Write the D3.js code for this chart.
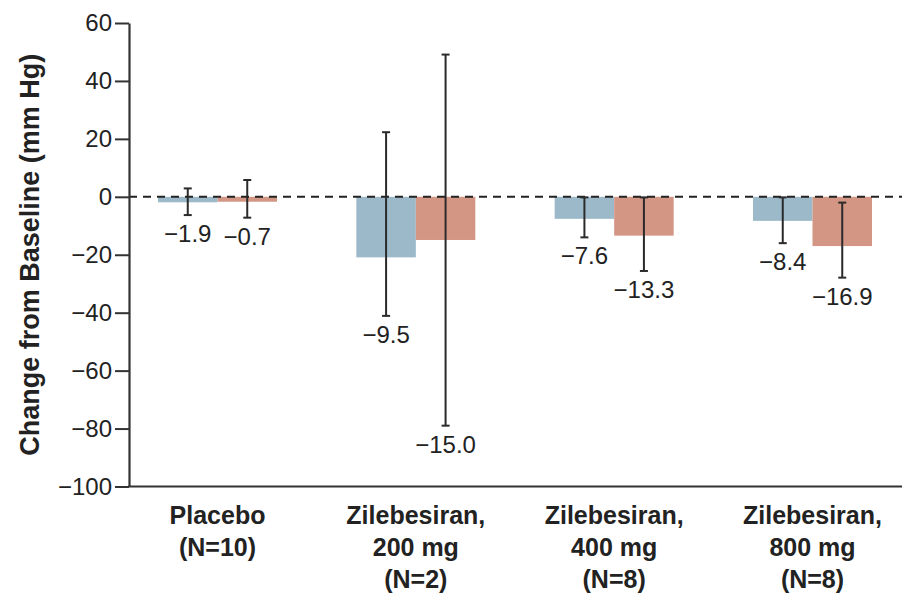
<!DOCTYPE html>
<html>
<head>
<meta charset="utf-8">
<script src="https://cdn.jsdelivr.net/npm/d3@7"></script>
<style>
    body { margin: 0; background: #fff; }
    svg { display: block; }
</style>
</head>
<body>
<div id="chart"></div>
<script>

const groups = ["Placebo", "Zilebesiran 200", "Zilebesiran 400", "Zilebesiran 800"];
const groupLabels = [
    ["Placebo", "(N=10)"],
    ["Zilebesiran,", "200 mg", "(N=2)"],
    ["Zilebesiran,", "400 mg", "(N=8)"],
    ["Zilebesiran,", "800 mg", "(N=8)"]
];
const series = ["first", "second"];

// bar heights, error bar ends and printed values
const firstMeans = [-1.9, -20.9, -7.6, -8.3];
const firstUpper = [2.9, 22.3, -0.2, -0.2];
const firstLower = [-6.3, -41.1, -14.0, -16.0];
const firstLabels = ["−1.9", "−9.5", "−7.6", "−8.4"];

const secondMeans = [-1.7, -14.9, -13.4, -17.0];
const secondUpper = [5.8, 49.1, -0.2, -2.0];
const secondLower = [-7.2, -79.0, -25.6, -27.9];
const secondLabels = ["−0.7", "−15.0", "−13.3", "−16.9"];

const yTicks = [60, 40, 20, 0, -20, -40, -60, -80, -100];

document.addEventListener("DOMContentLoaded", function () {
    drawChart();
});

function drawChart() {
    const width = 902, height = 601;
    const axisX = 129;

    const colors = { first: "#9bb9c9", second: "#d49684" };

    let rows = [];
    groups.forEach(function (g, i) {
        rows.push({ group: g, key: "first", mean: firstMeans[i], hi: firstUpper[i], lo: firstLower[i], label: firstLabels[i] });
        rows.push({ group: g, key: "second", mean: secondMeans[i], hi: secondUpper[i], lo: secondLower[i], label: secondLabels[i] });
    });

    let svg = d3.select("#chart")
        .append("svg")
        .attr("width", width)
        .attr("height", height);

    let xScale = d3.scaleBand()
        .domain(groups)
        .range([158, 872])
        .paddingInner(0.4)
        .paddingOuter(0);

    let xInner = d3.scaleBand()
        .domain(series)
        .range([0, xScale.bandwidth()]);

    let yScale = d3.scaleLinear()
        .domain([-100, 60])
        .range([486.5, 23]);

    // bars
    svg.append("g")
        .selectAll("rect")
        .data(rows)
        .enter()
        .append("rect")
        .attr("x", d => xScale(d.group) + xInner(d.key))
        .attr("width", xInner.bandwidth())
        .attr("y", d => yScale(Math.max(0, d.mean)))
        .attr("height", d => Math.abs(yScale(d.mean) - yScale(0)))
        .attr("fill", d => colors[d.key]);

    // zero reference line
    svg.append("line")
        .attr("x1", axisX)
        .attr("x2", width)
        .attr("y1", yScale(0))
        .attr("y2", yScale(0))
        .attr("stroke", "#222")
        .attr("stroke-width", 2)
        .attr("stroke-dasharray", "8,6");

    // error bars
    const cx = d => xScale(d.group) + xInner(d.key) + xInner.bandwidth() / 2;
    let err = svg.append("g")
        .attr("stroke", "#2a2a2a")
        .attr("stroke-width", 2);

    err.selectAll(".stem")
        .data(rows)
        .enter()
        .append("line")
        .attr("x1", cx).attr("x2", cx)
        .attr("y1", d => yScale(d.hi))
        .attr("y2", d => yScale(d.lo));

    err.selectAll(".capHi")
        .data(rows)
        .enter()
        .append("line")
        .attr("x1", d => cx(d) - 4).attr("x2", d => cx(d) + 4)
        .attr("y1", d => yScale(d.hi))
        .attr("y2", d => yScale(d.hi));

    err.selectAll(".capLo")
        .data(rows)
        .enter()
        .append("line")
        .attr("x1", d => cx(d) - 4).attr("x2", d => cx(d) + 4)
        .attr("y1", d => yScale(d.lo))
        .attr("y2", d => yScale(d.lo));

    // value labels under the error bars
    svg.append("g")
        .selectAll("text")
        .data(rows)
        .enter()
        .append("text")
        .attr("x", cx)
        .attr("y", d => yScale(d.lo) + 27)
        .attr("text-anchor", "middle")
        .style("font-family", "'Liberation Sans', Arial, sans-serif")
        .style("font-size", "24px")
        .style("fill", "#222")
        .text(d => d.label);

    // y axis
    let yAxis = svg.append("g")
        .attr("transform", "translate(" + axisX + ",0)")
        .call(d3.axisLeft(yScale)
            .tickValues(yTicks)
            .tickSize(14)
            .tickPadding(3)
            .tickSizeOuter(0));
    yAxis.select(".domain").attr("stroke", "#333").attr("stroke-width", 2.2);
    yAxis.selectAll(".tick line").attr("stroke", "#333").attr("stroke-width", 2);
    yAxis.selectAll(".tick text")
        .style("font-family", "'Liberation Sans', Arial, sans-serif")
        .style("font-size", "24px")
        .style("fill", "#222");

    // bottom axis line
    svg.append("line")
        .attr("x1", axisX - 1)
        .attr("x2", width)
        .attr("y1", yScale(-100))
        .attr("y2", yScale(-100))
        .attr("stroke", "#333")
        .attr("stroke-width", 2.2);

    // group labels
    let gl = svg.append("g")
        .selectAll("text")
        .data(groups)
        .enter()
        .append("text")
        .attr("text-anchor", "middle")
        .attr("x", d => xScale(d) + xScale.bandwidth() / 2)
        .style("font-family", "'Liberation Sans', Arial, sans-serif")
        .style("font-weight", "bold")
        .style("font-size", "25px")
        .style("fill", "#222");
    gl.selectAll("tspan")
        .data((d, i) => groupLabels[i])
        .enter()
        .append("tspan")
        .attr("x", function () { return this.parentNode.getAttribute("x"); })
        .attr("y", (d, i) => 524 + i * 32)
        .text(d => d);

    // y axis title
    svg.append("text")
        .attr("transform", "translate(39," + yScale(-20) + ") rotate(-90)")
        .attr("text-anchor", "middle")
        .style("font-family", "'Liberation Sans', Arial, sans-serif")
        .style("font-weight", "bold")
        .style("font-size", "27px")
        .style("fill", "#222")
        .text("Change from Baseline (mm Hg)");
}
</script>
</body>
</html>
